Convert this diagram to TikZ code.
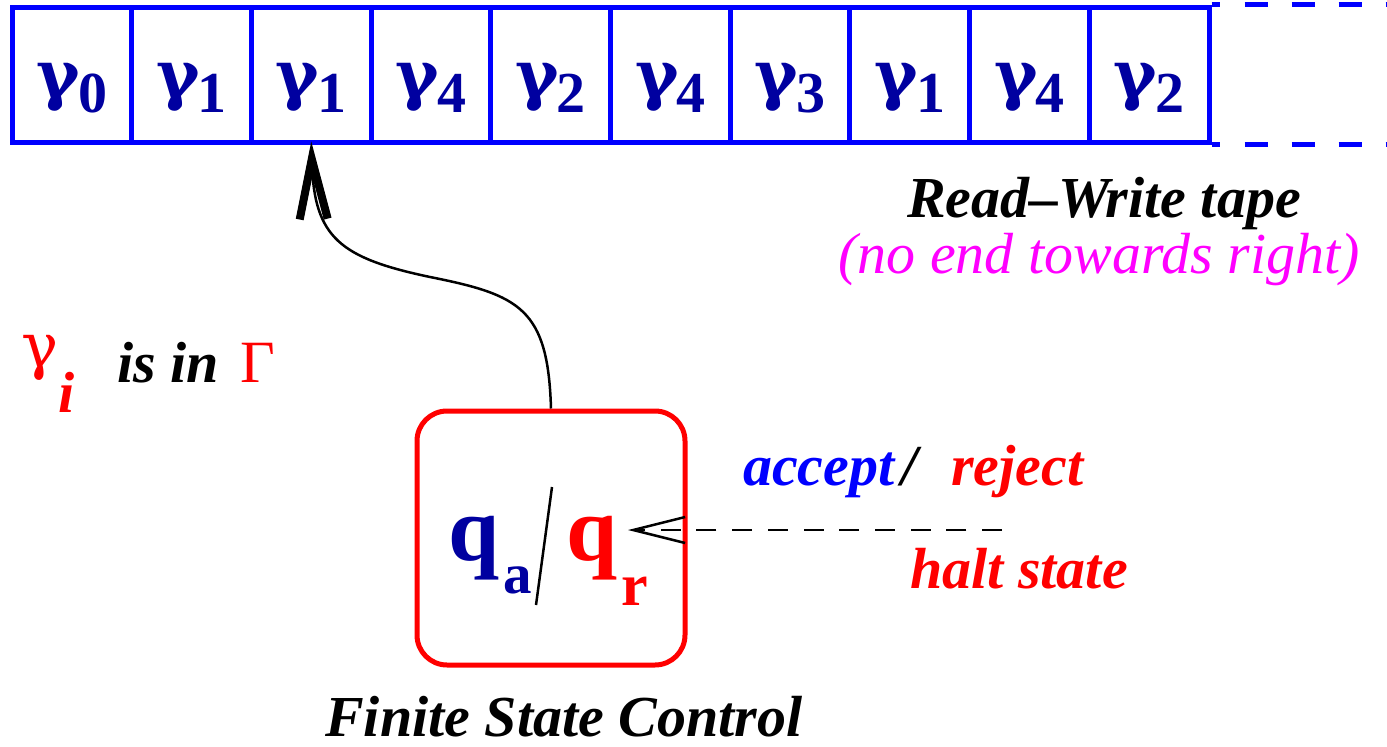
\documentclass[tikz,border=0pt]{standalone}
\usepackage{fontspec}
\setmainfont{Liberation Serif}
\newfontfamily\gfont{DejaVu Serif}
\usetikzlibrary{arrows.meta}
\definecolor{tapeblue}{RGB}{0,0,255}
\definecolor{symblue}{RGB}{0,0,160}
\definecolor{mag}{RGB}{255,0,255}
\newcommand\fsz[1]{\fontsize{#1}{#1}\selectfont}
\newcommand\tsym[1]{{\gfont\fsz{66}\bfseries γ}\kern-2pt\raisebox{-15pt}{\fsz{58}\bfseries #1}}
\begin{document}
\begin{tikzpicture}[x=1pt,y=-1pt,
  cell/.style={draw=tapeblue, line width=5pt, minimum width=119.7pt, minimum height=135pt,
    inner sep=0pt, text height=55pt, text depth=10pt, text=symblue},
  lbl/.style={inner sep=0pt, anchor=base west, font=\fsz{58}\bfseries\itshape},
  plain/.style={inner sep=0pt, anchor=base west},
  tapeline/.style={draw=tapeblue, line width=5pt},
  thinline/.style={line width=2.5pt}]
\fill[white] (0,0) rectangle (1387,747);
\useasboundingbox (0,0) rectangle (1387,747);
% tape
\foreach \s [count=\i from 0] in {0,1,1,4,2,4,3,1,4,2}{
  \node[cell] (c\i) at ({12+59.85+119.7*\i},74.5) {\tsym{\s}};
}
\draw[tapeline] (c9.north east) -- ++(8,0);
\draw[tapeline] (c9.south east) -- ++(8,0);
\draw[tapeline, dash pattern=on 23pt off 24pt] ([xshift=33pt]c9.north east) -- ++(160,0);
\draw[tapeline, dash pattern=on 23pt off 24pt] ([xshift=33pt]c9.south east) -- ++(160,0);
% labels
\node[lbl] (rw) at (907,217) {Read–Write tape};
\node[lbl, font=\fsz{58}\itshape, text=mag] (noend) at (838,273) {(no end towards right)};
\node[plain, text=red, font=\gfont\fsz{62}] (gi) at (21,367) {γ};
\node[lbl, text=red] (ii) at (58,412) {i};
\node[lbl] (isin) at (117,382) {is in};
\node[plain, text=red, font=\fsz{60}] (Gam) at (240,382) {Γ};
% finite state control
\node[draw=red, line width=5pt, rounded corners=30pt, minimum width=268pt, minimum height=254pt] (fsc) at (551,538) {};
\node[plain, text=symblue, font=\fsz{92}\bfseries] (qa) at (448,560) {q\kern4pt\raisebox{-33pt}{\fsz{57}\bfseries a}};
\node[plain, text=red, font=\fsz{92}\bfseries] (qr) at (566,560) {q\kern4pt\raisebox{-45pt}{\fsz{60}\bfseries r}};
\draw[thinline] (552,487) -- (536,605);
\node[lbl] (fsclbl) at (325,736) {Finite State Control};
% head arrow
\coordinate (mid) at (430,277);
\draw[thinline, -{Straight Barb[length=60pt, width=28pt, line width=8pt]}]
  (fsc.north) .. controls +(-3,-100) and +(90,18) .. (mid)
  .. controls +(-90,-19) and +(3,96) .. ([yshift=3pt]c2.south);
% halt state
\node[lbl] (acc) at (743,485) {\textcolor{tapeblue}{accept}\kern7pt/};
\node[lbl, text=red] (rej) at (951,485) {reject};
\node[lbl, text=red] (halt) at (910,588) {halt state};
\coordinate (hsend) at (1002,530);
\coordinate (qtip) at (628,530);
\draw[thinline, dash pattern=on 20pt off 15.7pt, -{Straight Barb[length=52pt, width=26pt]}] (hsend) -- (qtip);
\end{tikzpicture}
\end{document}
